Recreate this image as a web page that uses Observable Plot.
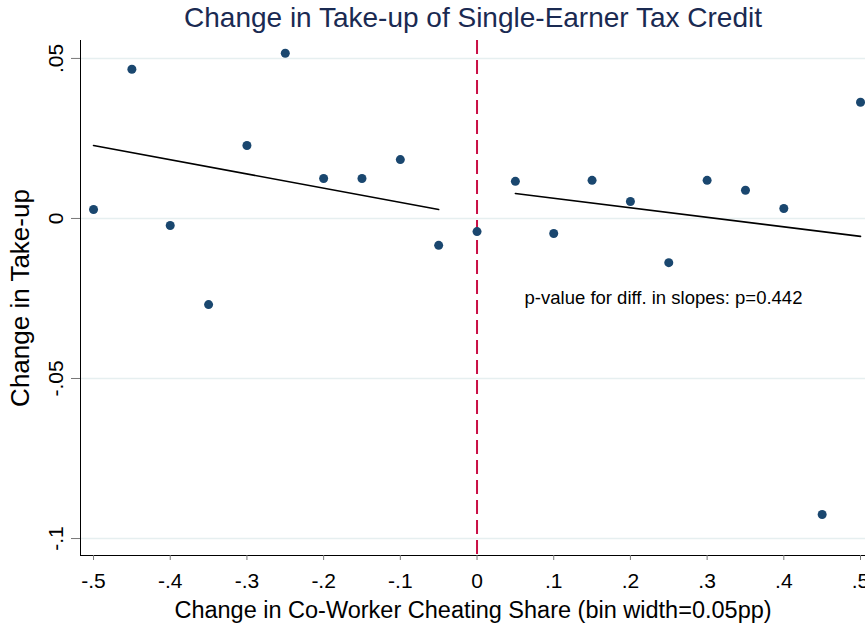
<!DOCTYPE html>
<html>
<head>
<meta charset="utf-8">
<script src="https://cdn.jsdelivr.net/npm/d3@7"></script>
<script src="https://cdn.jsdelivr.net/npm/@observablehq/plot@0.6"></script>
<style>
  html, body { margin: 0; padding: 0; background: #fff; }
  #chart svg { display: block; }
</style>
</head>
<body>
<div id="chart"></div>
<script>
// Binned scatter: change in co-worker cheating share (bin centers) vs change in take-up
const binX = [-0.5, -0.45, -0.4, -0.35, -0.3, -0.25, -0.2, -0.15, -0.1, -0.05, 0,
              0.05, 0.1, 0.15, 0.2, 0.25, 0.3, 0.35, 0.4, 0.45, 0.5];
const takeUp = [0.0028, 0.0466, -0.0022, -0.0269, 0.0228, 0.0516, 0.0125, 0.0125, 0.0184, -0.0084, -0.0041,
                0.0116, -0.0047, 0.0119, 0.0053, -0.0138, 0.0119, 0.0088, 0.0031, -0.0925, 0.0363];

// Fitted lines (endpoints)
const fitLeftX = [-0.5, -0.05];
const fitLeftY = [0.0228, 0.0028];
const fitRightX = [0.05, 0.5];
const fitRightY = [0.0078, -0.0056];

const xTicks = [-0.5, -0.4, -0.3, -0.2, -0.1, 0, 0.1, 0.2, 0.3, 0.4, 0.5];
const xTickLabels = ["-.5", "-.4", "-.3", "-.2", "-.1", "0", ".1", ".2", ".3", ".4", ".5"];
const yTicks = [0.05, 0, -0.05, -0.1];
const yTickLabels = [".05", "0", "-.05", "-.1"];

const titleText = "Change in Take-up of Single-Earner Tax Credit";
const xTitle = "Change in Co-Worker Cheating Share (bin width=0.05pp)";
const yTitle = "Change in Take-up";
const note = "p-value for diff. in slopes: p=0.442";
const noteX = 0.062, noteY = -0.025;

const points = binX.map((x, i) => ({x, y: takeUp[i]}));
const fitLeft = fitLeftX.map((x, i) => ({x, y: fitLeftY[i]}));
const fitRight = fitRightX.map((x, i) => ({x, y: fitRightY[i]}));

const xDomain = [-0.517, 0.5065];
const yDomain = [-0.1053, 0.0556];
const font = "Liberation Sans, Arial, sans-serif";
const xLab = new Map(xTicks.map((t, i) => [t, xTickLabels[i]]));
const yLab = new Map(yTicks.map((t, i) => [t, yTickLabels[i]]));

const chart = Plot.plot({
  width: 865,
  height: 626,
  marginLeft: 80,
  marginRight: 0,
  marginTop: 40,
  marginBottom: 71,
  style: {fontFamily: font, background: "#fff"},
  x: {domain: xDomain},
  y: {domain: yDomain},
  marks: [
    Plot.gridY(yTicks, {stroke: "#e6eff0", strokeOpacity: 1, strokeWidth: 1.5}),
    Plot.ruleX([0], {stroke: "#c90f45", strokeWidth: 2, strokeDasharray: "14,6"}),
    Plot.line(fitLeft, {x: "x", y: "y", stroke: "#000", strokeWidth: 1.6}),
    Plot.line(fitRight, {x: "x", y: "y", stroke: "#000", strokeWidth: 1.6}),
    Plot.dot(points, {x: "x", y: "y", r: 4.5, fill: "#1a476f", stroke: "none"}),
    Plot.text([note], {x: () => noteX, y: () => noteY, text: d => d, textAnchor: "start",
      fontSize: 18.5, fill: "#000"}),
    Plot.ruleX([xDomain[0]], {stroke: "#000", strokeWidth: 1}),
    Plot.ruleY([yDomain[0]], {stroke: "#000", strokeWidth: 1}),
    Plot.axisX(xTicks, {tickSize: 5, tickPadding: 13, stroke: "#777", fill: "#000",
      fontSize: 21, tickFormat: d => xLab.get(d), label: null, textAnchor: "middle"}),
    Plot.axisY(yTicks, {tickSize: 9, tickPadding: 9, stroke: "#777", fill: "#000",
      fontSize: 21, tickRotate: -90, tickFormat: d => yLab.get(d), label: null}),
    Plot.text([titleText], {frameAnchor: "top", dy: -33, text: d => d, fontSize: 28,
      fill: "#1a2a52"}),
    Plot.text([xTitle], {frameAnchor: "bottom", dy: 62, text: d => d, fontSize: 23.5, fill: "#000"}),
    Plot.text([yTitle], {frameAnchor: "left", dx: -60, text: d => d, fontSize: 26,
      rotate: -90, textAnchor: "middle", fill: "#000"})
  ]
});
document.getElementById("chart").appendChild(chart);
</script>
</body>
</html>
